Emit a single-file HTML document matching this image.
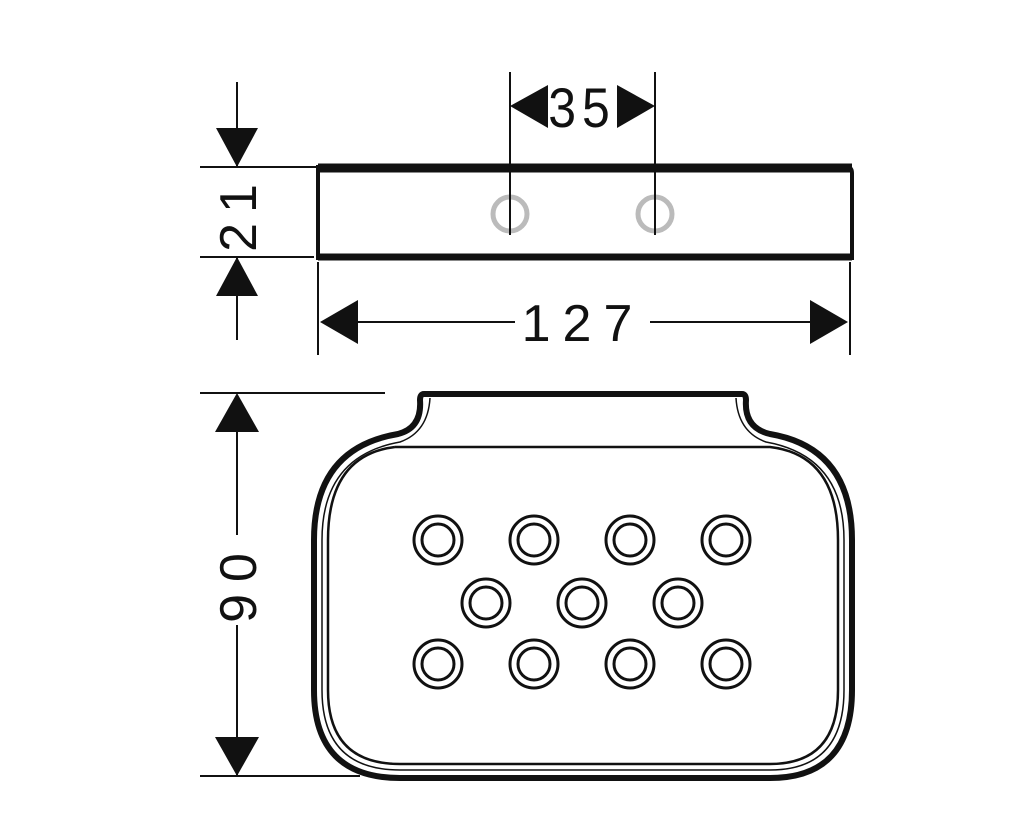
<!DOCTYPE html>
<html><head><style>body{margin:0;background:#fff}svg{display:block}text{font-family:"Liberation Sans",sans-serif;fill:#111}</style></head><body>
<svg width="1024" height="839" viewBox="0 0 1024 839">
<g stroke="#111" fill="none">
<path d="M320 167 H846 Q852 167 852 173 V258 H318 V167 Z" stroke-width="4"/>
<line x1="318" y1="168" x2="852" y2="168" stroke-width="9"/>
<line x1="318" y1="257" x2="852" y2="257" stroke-width="7"/>
<circle cx="510" cy="214" r="17" stroke="#bbb" stroke-width="5"/>
<circle cx="655" cy="214" r="17" stroke="#bbb" stroke-width="5"/>
<line x1="510" y1="72" x2="510" y2="235" stroke-width="2"/>
<line x1="655" y1="72" x2="655" y2="235" stroke-width="2"/>
<line x1="237" y1="82" x2="237" y2="166" stroke-width="2"/>
<line x1="237" y1="258" x2="237" y2="340" stroke-width="2"/>
<line x1="200" y1="167" x2="318" y2="167" stroke-width="2"/>
<line x1="200" y1="257" x2="314" y2="257" stroke-width="2"/>
<line x1="318" y1="262" x2="318" y2="355" stroke-width="2"/>
<line x1="850" y1="262" x2="850" y2="355" stroke-width="2"/>
<line x1="340" y1="322" x2="515" y2="322" stroke-width="2"/>
<line x1="650" y1="322" x2="830" y2="322" stroke-width="2"/>
<line x1="237" y1="395" x2="237" y2="535" stroke-width="2"/>
<line x1="237" y1="625" x2="237" y2="775" stroke-width="2"/>
<line x1="200" y1="393" x2="385" y2="393" stroke-width="2"/>
<line x1="200" y1="776" x2="360" y2="776" stroke-width="2"/>
<path d="M424 394 H742 Q746 394 746 400 Q744 428 770 434 Q852 448 852 540 V690 Q852 778 770 778 H400 Q314 778 314 690 V540 Q314 448 398 434 Q422 428 420 400 Q420 394 424 394 Z" stroke-width="6"/>
<path d="M430 398 Q428 432 400 442 Q322 456 322 540 V690 Q322 770 400 770 H770 Q844 770 844 690 V540 Q844 456 766 442 Q738 432 736 398" stroke-width="1.5"/>
<path d="M395 447 H770 Q838 455 838 540 V690 Q838 764 770 764 H400 Q328 764 328 690 V540 Q328 455 395 447" stroke-width="2.5"/>
<g stroke-width="3">
<circle cx="438" cy="540" r="24"/><circle cx="438" cy="540" r="16"/>
<circle cx="534" cy="540" r="24"/><circle cx="534" cy="540" r="16"/>
<circle cx="630" cy="540" r="24"/><circle cx="630" cy="540" r="16"/>
<circle cx="726" cy="540" r="24"/><circle cx="726" cy="540" r="16"/>
<circle cx="486" cy="603" r="24"/><circle cx="486" cy="603" r="16"/>
<circle cx="582" cy="603" r="24"/><circle cx="582" cy="603" r="16"/>
<circle cx="678" cy="603" r="24"/><circle cx="678" cy="603" r="16"/>
<circle cx="438" cy="664" r="24"/><circle cx="438" cy="664" r="16"/>
<circle cx="534" cy="664" r="24"/><circle cx="534" cy="664" r="16"/>
<circle cx="630" cy="664" r="24"/><circle cx="630" cy="664" r="16"/>
<circle cx="726" cy="664" r="24"/><circle cx="726" cy="664" r="16"/>
</g>
</g>
<g fill="#111">
<polygon points="510,106 548,85 548,128"/>
<polygon points="655,106 617,85 617,128"/>
<polygon points="237,167 216,128 258,128"/>
<polygon points="237,257 216,296 258,296"/>
<polygon points="320,322 358,300 358,344"/>
<polygon points="848,322 810,300 810,344"/>
<polygon points="237,393 215,432 259,432"/>
<polygon points="237,776 215,737 259,737"/>
</g>
<text x="582" y="126" font-size="50" text-anchor="middle" letter-spacing="6" transform="translate(0,-14) scale(1,1.12)">35</text>
<text x="583" y="341" font-size="52" text-anchor="middle" letter-spacing="12">127</text>
<text transform="translate(256,213) rotate(-90)" font-size="52" text-anchor="middle" letter-spacing="10">21</text>
<text transform="translate(256,582) rotate(-90)" font-size="52" text-anchor="middle" letter-spacing="12">90</text>
</svg>
</body></html>
